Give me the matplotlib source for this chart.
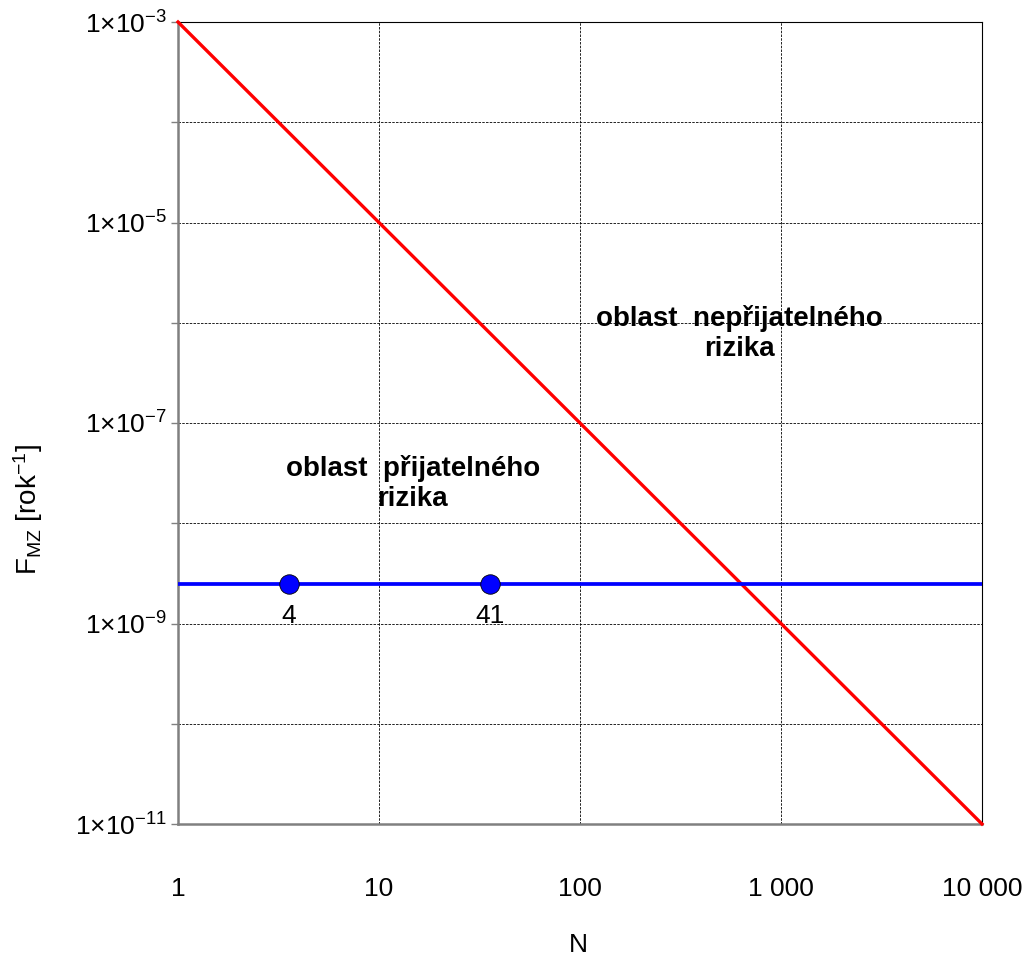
import numpy as np
import matplotlib
matplotlib.use("Agg")
import matplotlib.pyplot as plt
from matplotlib.ticker import FixedLocator, NullFormatter

plt.rcParams["font.family"] = ["Liberation Sans", "DejaVu Sans"]
plt.rcParams["mathtext.default"] = "regular"

# limit lines
limit_n = [1, 10000]
limit_f = [1e-3, 1e-11]
level_n = [1, 10000]
level_f = [2.5e-9, 2.5e-9]

# evaluated points
point_n = [3.55, 35.7]
point_f = [2.5e-9, 2.5e-9]
point_labels = ["4", "41"]

x_ticks = [1, 10, 100, 1000, 10000]
x_labels = ["1", "10", "100", "1 000", "10 000"]
y_major = [1e-11, 1e-9, 1e-7, 1e-5, 1e-3]
y_labels = ["1×10$^{-11}$", "1×10$^{-9}$", "1×10$^{-7}$", "1×10$^{-5}$", "1×10$^{-3}$"]
y_minor = [1e-10, 1e-8, 1e-6, 1e-4]

W, H = 1027, 961
fig = plt.figure(figsize=(W / 100, H / 100), dpi=100)
ax = fig.add_axes([178 / W, 1 - 824 / H, (982 - 178) / W, (824 - 22) / H])

ax.set_xscale("log")
ax.set_yscale("log")
ax.set_xlim(1, 10000)
ax.set_ylim(1e-11, 1e-3)

ax.plot(limit_n, limit_f, color="#ff0000", lw=2.4, zorder=3, clip_on=False)
ax.plot(level_n, level_f, color="#0000ff", lw=2.7, zorder=3)
ax.plot(point_n, point_f, "o", ms=14, mfc="#0000ff", mec="black", mew=0.6, zorder=4)
for n, f, lab in zip(point_n, point_f, point_labels):
    ax.annotate(lab, (n, f), xytext=(0, -23), textcoords="offset points",
                ha="center", va="center", fontsize=19)

ax.xaxis.set_major_locator(FixedLocator(x_ticks))
ax.set_xticklabels(x_labels)
ax.xaxis.set_minor_locator(FixedLocator([]))
ax.yaxis.set_major_locator(FixedLocator(y_major))
ax.set_yticklabels(y_labels)
ax.yaxis.set_minor_locator(FixedLocator(y_minor))
ax.yaxis.set_minor_formatter(NullFormatter())

ax.tick_params(axis="x", which="both", length=0, pad=38, labelsize=19)
ax.tick_params(axis="y", which="both", length=5, width=1, color="#808080",
               pad=3, labelsize=19, direction="out")

ax.grid(True, which="both", color="black", lw=0.6, linestyle=(0, (3, 1.5)))
ax.set_axisbelow(True)

for side in ["top", "right"]:
    ax.spines[side].set_color("black")
    ax.spines[side].set_linewidth(0.8)
for side in ["left", "bottom"]:
    ax.spines[side].set_color("#808080")
    ax.spines[side].set_linewidth(1.8)

ax.text(0.292, 0.425, "oblast  přijatelného\nrizika", transform=ax.transAxes,
        ha="center", va="center", multialignment="center",
        fontsize=20, fontweight="bold", linespacing=1.2)
ax.text(0.698, 0.612, "oblast  nepřijatelného\nrizika", transform=ax.transAxes,
        ha="center", va="center", multialignment="center",
        fontsize=20, fontweight="bold", linespacing=1.2)

fig.text(28 / W, 1 - 510 / H, "F$_{MZ}$ [rok$^{-1}$]", rotation=90,
         ha="center", va="center", fontsize=20)
fig.text(578 / W, 1 - 945 / H, "N", ha="center", va="center", fontsize=19)

fig.savefig("out.png", dpi=100, facecolor="white")
